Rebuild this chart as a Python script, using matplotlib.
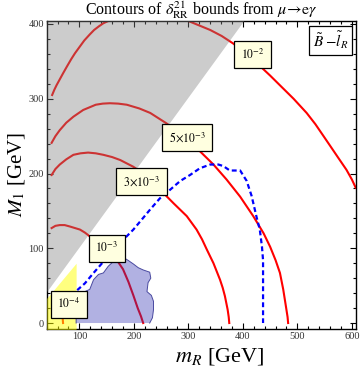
import numpy as np
import matplotlib
matplotlib.use("Agg")
import matplotlib.pyplot as plt
from matplotlib.ticker import MultipleLocator

plt.rcParams['font.family'] = ['Liberation Serif', 'DejaVu Serif']
plt.rcParams['mathtext.fontset'] = 'stix'

# contours of delta_RR^21 (m_R, M_1)
c_1e2_a_m = [50, 54, 58, 64, 70, 77, 85, 92, 100, 109, 119, 127, 136, 144, 153]
c_1e2_a_M = [305, 312, 318, 326, 334, 343, 353, 361, 369, 378, 386, 392, 397, 401, 404]
c_1e2_b_m = [300, 320, 340, 361, 382, 407, 431, 450, 468, 493, 517, 533, 548, 562, 575, 590, 600, 607]
c_1e2_b_M = [404, 398, 392, 384, 374, 360, 344, 331, 318, 300, 281, 266, 250, 235, 221, 205, 192, 181]
c_5e3_m = [49, 56, 64, 76, 89, 107, 130, 143, 156, 171, 187, 210, 230, 260, 290, 318, 346, 370,
           395, 419, 438, 450, 460, 468, 474, 479, 482, 483]
c_5e3_M = [241, 250, 258, 268, 276, 285, 292, 293.5, 294, 293.5, 292, 287, 281, 267, 250, 232, 212, 192,
           169, 143, 120, 102, 84, 67, 45, 22, 8, 0]
c_3e3_m = [49, 56, 64, 76, 89, 102, 116, 130, 144, 160, 175, 199, 211, 232, 254, 273, 297, 315,
           325, 334, 346, 358, 363, 367, 372, 374, 375]
c_3e3_M = [198, 206, 212, 219, 225, 227, 228, 227, 225, 222, 218, 209, 203, 189, 174, 160, 143, 125,
           112, 98, 80, 58, 47, 36, 18, 8, 0]
c_1e3_m = [49, 56, 64, 73, 83, 92, 101, 110, 119, 132, 145, 157, 168, 180, 190, 199, 207, 213, 217]
c_1e3_M = [127, 130, 131, 131, 129, 127, 125, 121, 116, 109, 102, 94, 85, 72, 55, 37, 20, 9, 0]
c_1e4_m = [69, 70]
c_1e4_M = [9, 0]

# dashed blue bound
dash_m = [96, 110, 126, 144, 162, 180, 199, 214, 230, 248, 266, 285, 303, 321, 340, 355, 364,
          376, 395, 407, 416, 425, 431, 435, 437, 437, 437]
dash_M = [44, 53, 67, 82, 98, 111, 125, 138, 152, 167, 178, 190, 198, 207, 212, 212, 210,
          204, 204, 190, 170, 142, 125, 102, 84, 40, 0]

# shaded regions
gray_m = [40, 410]
gray_lo = [42, 413]
yellow_m = [40, 94]
yellow_hi = [33, 80]
blob_m = [94, 94, 100, 110, 119, 126, 135, 144, 153, 162, 171, 180, 189, 199, 208, 217, 229,
          231, 226, 224, 232, 236, 236, 234, 229]
blob_M = [0, 18, 36, 42, 45, 58, 65, 67, 76, 82, 87, 88, 84, 79, 74, 71, 68,
          60, 54, 42, 37, 29, 18, 7, 0]

labels = [r"$10^{-4}$", r"$10^{-3}$", r"$3\!\times\!10^{-3}$", r"$5\!\times\!10^{-3}$", r"$10^{-2}$"]
label_m = [81, 150, 214, 298, 418]
label_M = [25, 100, 189, 248, 359]

fig = plt.figure(figsize=(3.6, 3.71), dpi=100)
ax = fig.add_axes([46.7/360, 1-329/371, 309/360, 308/371])

red = dict(color="red", lw=1.5, zorder=2, solid_joinstyle="round")
ax.plot(c_1e2_a_m, c_1e2_a_M, **red)
ax.plot(c_1e2_b_m, c_1e2_b_M, **red)
ax.plot(c_5e3_m, c_5e3_M, **red)
ax.plot(c_3e3_m, c_3e3_M, **red)
ax.plot(c_1e3_m, c_1e3_M, **red)
ax.plot(c_1e4_m, c_1e4_M, **red)

ax.fill_between(gray_m, gray_lo, 450, color=(0.5, 0.5, 0.5), alpha=0.4, lw=0, zorder=3)
ax.fill_between(yellow_m, -20, yellow_hi, color=(1, 1, 0), alpha=0.5, lw=0, zorder=3)
ax.fill(blob_m, blob_M, facecolor=(0.2, 0.2, 0.7), alpha=0.38, edgecolor="none", zorder=3)
ax.plot(blob_m, blob_M, color="#4a4aa0", lw=0.7, zorder=3)

ax.plot(dash_m, dash_M, color="blue", lw=1.6, ls=(0, (2.2, 1.4)), zorder=4)

for t, x, y in zip(labels, label_m, label_M):
    ax.text(x, y, t, ha="center", va="center", fontsize=8.5, zorder=5,
            bbox=dict(boxstyle="square,pad=0.55", fc="#ffffe0", ec="black", lw=0.9))

ax.text(0.918, 0.937, r"$\tilde{B}\;{-}\tilde{l}_R$", transform=ax.transAxes, ha="center", va="center",
        fontsize=11, zorder=5,
        bbox=dict(boxstyle="square,pad=0.25", fc="white", ec="black", lw=0.9))

ax.set_xlim(40, 607)
ax.set_ylim(-8, 404)
ax.xaxis.set_major_locator(MultipleLocator(100))
ax.xaxis.set_minor_locator(MultipleLocator(20))
ax.yaxis.set_major_locator(MultipleLocator(100))
ax.yaxis.set_minor_locator(MultipleLocator(20))
ax.tick_params(which="both", direction="in", top=True, right=True, labelsize=7.5,
               labelcolor="#333333", width=0.8, pad=2)
ax.tick_params(which="major", length=4)
ax.tick_params(which="minor", length=2.2)
for s in ax.spines.values():
    s.set_linewidth(1.0)

ax.set_title(r"Contours of $\delta^{21}_{\rm RR}$ bounds from $\mu\!\rightarrow\!{\rm e}\gamma$",
             fontsize=11.5, pad=3)
ax.set_xlabel(r"$m_R$ [GeV]", fontsize=16)
ax.xaxis.set_label_coords(0.561, -0.088, transform=ax.transAxes)
ax.xaxis.label.set_va("center")
ax.set_ylabel(r"$M_1$ [GeV]", fontsize=15, labelpad=1)

fig.savefig("out.png", dpi=100)
